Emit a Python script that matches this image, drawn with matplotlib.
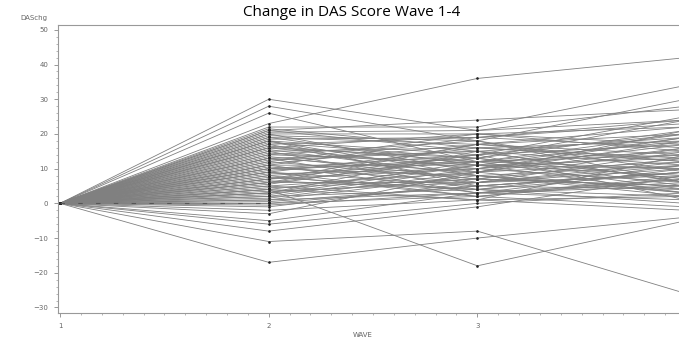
import numpy as np
import matplotlib.pyplot as plt
from matplotlib.ticker import MultipleLocator

# change in DAS score from wave 1 (all start at 0)
waves = [1, 2, 3, 4]
wave2 = [30, 28, 26, 23, 22, 21, 21, 20, 19, 19, 18, 18, 17, 17, 16, 16, 15, 15,
         14, 14, 13, 13, 12, 12, 11, 11, 10, 10, 9, 9, 8, 8, 7, 7, 6, 6, 5, 5,
         4, 4, 3, 3, 2, 2, 1, 1, 0, 0, -1, -2, -3, -5, -6, -8, -11, -17,
         20.5, 18.5, 16.5, 13.5, 11.5, 9.5, 7.5, 5.5, 3.5, 2.5,
         21.5, 20, 19.5, 18, 17.5, 16, 15.5, 14.5, 13, 12.5, 11, 10.5,
         10, 9, 8.5, 7, 6.5, 6, 4.5, 4, 3, 1.5, 0.5, -0.5]
wave3 = [21, 18, 12, 36, 22, 24, 15, 20, 11, 17, 8, 14, 19, 6, 13, 10, 16, 4,
         12, 18, 9, 15, 7, 20, 11, 3, 14, 8, 16, 5, 12, 2, 10, 17, 6, 13, 9, 1,
         -18, 11, 7, 15, 4, 10, 3, 8, 5, 2, 6, 1, 9, 3, 0, -1, -8, -10,
         21, 19, 12, 7, 17, 13, 4, 14, 6, 11,
         16, 9, 18, 5, 13, 20, 8, 11, 3, 15, 19, 6,
         12, 2, 10, 14, 4, 17, 7, 1, 12, 9, 5, 3]
wave4 = [24, 30, 15, 42, 34, 27, 19, 22, 8, 12, 4, 20, 16, 10, 24, 6, 18, 2,
         14, 9, 21, 11, 5, 17, 13, 7, 25, 3, 12, 9, 18, -1, 14, 20, 8, 5, 16, 2,
         -5, 10, 13, 6, 9, 19, 1, 11, 4, 7, 15, -2, 12, 5, 3, 8, -26, -4,
         28, 23, 10, 16, 14, 7, 0, 17, 11, 3,
         13, 18, 6, 9, 21, 15, 2, 19, 10, 6, 24, 12,
         4, 8, 17, 1, 11, 22, 5, 14, 20, 3, 9, 6]

fig = plt.figure(figsize=(6.79, 3.40), dpi=100)
ax = fig.add_axes([58 / 679, 1 - 313 / 340, 628 / 679, 288 / 340])

for i in range(len(wave2)):
    ys = [0, wave2[i], wave3[i], wave4[i]]
    ax.plot(waves, ys, color='#808080', lw=0.6,
            marker='.', ms=1.8, mfc='#222222', mec='#222222')

# dashed line along zero between wave 1 and 2
ax.plot([1, 2], [0, 0], color='#555555', lw=0.8, ls=(0, (4, 12)))

ax.set_xlim(0.99, 4)
ax.set_ylim(-31.6, 51.4)
ax.set_xticks([1, 2, 3, 4])
ax.set_xticklabels(['1', '2', '3', ''])
ax.set_yticks(range(-30, 51, 10))
ax.xaxis.set_minor_locator(MultipleLocator(0.1))
ax.yaxis.set_minor_locator(MultipleLocator(2))

for s in ['left', 'bottom', 'top']:
    ax.spines[s].set_color('#999999')
    ax.spines[s].set_linewidth(0.8)
ax.spines['right'].set_visible(False)
ax.tick_params(which='major', length=3, width=0.6, color='#888888',
               labelsize=5, labelcolor='#666666', pad=4)
ax.tick_params(which='minor', length=1.5, width=0.5, color='#999999')

fig.text(20 / 679, 1 - 18 / 340, 'DASchg', fontsize=5, color='#666666',
         ha='left', va='center')
fig.text(363 / 679, 1 - 335 / 340, 'WAVE', fontsize=5, color='#666666',
         ha='center', va='center')
fig.text(352 / 679, 1 - 13 / 340, 'Change in DAS Score Wave 1-4',
         fontsize=11, family='Open Sans', color='black', ha='center', va='center')

fig.savefig('out.png', dpi=100)
